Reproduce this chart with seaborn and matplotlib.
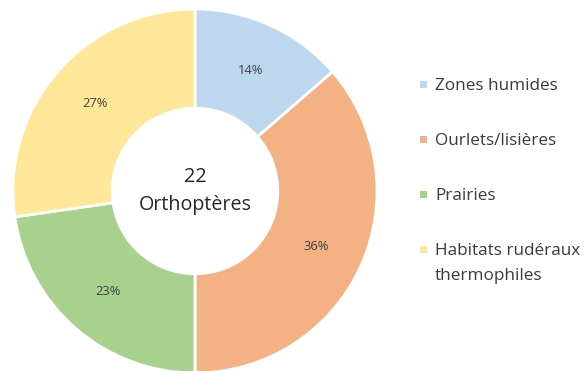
import matplotlib
matplotlib.use("Agg")
import matplotlib.pyplot as plt
from matplotlib.patches import Rectangle
import seaborn as sns

# Number of orthopteran species per habitat type
habitats = ["Zones humides", "Ourlets/lisières", "Prairies", "Habitats rudéraux\nthermophiles"]
counts = [3, 8, 5, 6]
total_label = "22\nOrthoptères"
colors = ["#bdd7ee", "#f4b183", "#a9d18e", "#ffe699"]

sns.set_theme(style="white")
plt.rcParams["font.family"] = ["Open Sans", "DejaVu Sans"]

W, H = 585, 371
fig = plt.figure(figsize=(W / 100, H / 100), dpi=100)
fig.patch.set_facecolor("white")

# donut centre and radius in pixels
cx, cy, r = 195, 191, 182
ax = fig.add_axes([(cx - r) / W, (H - cy - r) / H, 2 * r / W, 2 * r / H])

palette = sns.color_palette(colors)
wedges, _, autotexts = ax.pie(
    counts,
    colors=palette,
    startangle=90,
    counterclock=False,
    radius=1.0,
    autopct="%.0f%%",
    pctdistance=0.73,
    wedgeprops=dict(width=0.545, edgecolor="white", linewidth=2),
    textprops=dict(fontsize=9.3, color="#404040"),
)
ax.set_xlim(-1, 1)
ax.set_ylim(-1, 1)
ax.set_aspect("equal")
ax.axis("off")

ax.text(0, 0.0, total_label, ha="center", va="center", fontsize=14.2,
        color="#262626", linespacing=1.55)

# legend: colour square + label, one row per habitat (first-line baselines in px)
baselines = [90, 145, 200, 255]
line_step = 25
for lab, col, yb in zip(habitats, palette, baselines):
    fig.patches.append(Rectangle((420 / W, 1 - (yb - 2.5) / H), 7 / W, 7 / H,
                                 transform=fig.transFigure, facecolor=col,
                                 edgecolor="none"))
    # multi-line labels are anchored on their last baseline
    y_last = yb + line_step * lab.count("\n")
    fig.text(435 / W, 1 - y_last / H, lab, ha="left", va="baseline",
             fontsize=12.3, color="#3a3a3a", linespacing=1.76)

fig.savefig("out.png", dpi=100, facecolor="white")
